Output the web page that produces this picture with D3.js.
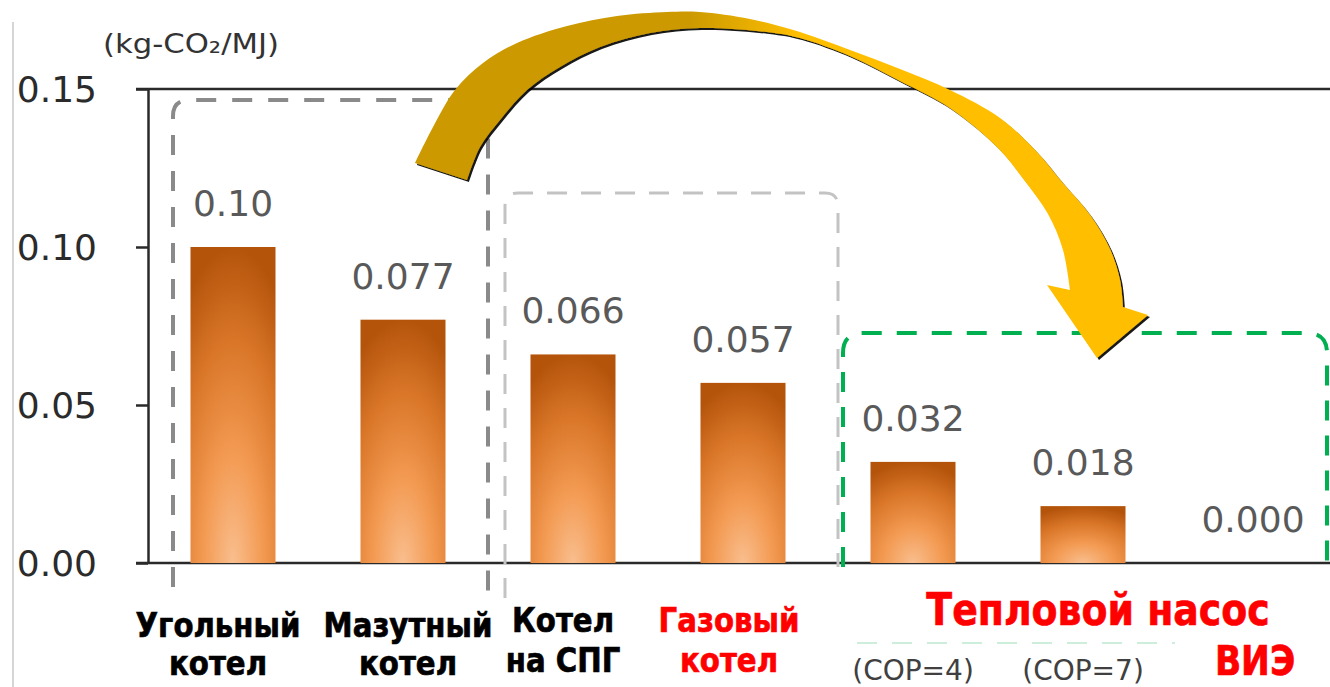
<!DOCTYPE html>
<html>
<head>
<meta charset="utf-8">
<script src="https://cdn.jsdelivr.net/npm/d3@7"></script>
<style>
  html, body { margin: 0; padding: 0; background: #fff; }
  svg { display: block; }
</style>
</head>
<body>
<svg id="chart" width="1330" height="687"></svg>
<script>
// CO2 emission factor per unit of heat delivered, by heat source
const categories = ["Угольный котел", "Мазутный котел", "Котел на СПГ", "Газовый котел",
                    "Тепловой насос (COP=4)", "Тепловой насос (COP=7)", "ВИЭ"];
const values = [0.10, 0.077, 0.066, 0.057, 0.032, 0.018, 0.000];
const valueLabels = ["0.10", "0.077", "0.066", "0.057", "0.032", "0.018", "0.000"];
const yTicks = [0, 0.05, 0.10, 0.15];
const unitLabel = "(kg-CO₂/MJ)";
const categoryLines = [["Угольный", "котел"], ["Мазутный", "котел"], ["Котел", "на СПГ"],
                       ["Газовый", "котел"], ["(COP=4)"], ["(COP=7)"], ["ВИЭ"]];
const groupLabel = "Тепловой насос";

const svg = d3.select("#chart");
const W = 1330, H = 687;
svg.append("rect").attr("width", W).attr("height", H).attr("fill", "#fff");

const x = d3.scaleBand().domain(categories).range([148, 1338]).paddingInner(0.5).paddingOuter(0.25);
const y = d3.scaleLinear().domain([0, 0.15]).range([563, 89]);

const defs = svg.append("defs");

// bar fill: light at the bottom centre, darkening towards the top
const bg = defs.append("radialGradient").attr("id", "barGrad")
  .attr("cx", 0.5).attr("cy", 1).attr("r", 1).attr("fx", 0.5).attr("fy", 1);
[[0, "#f9be8e"], [0.35, "#f39a52"], [0.7, "#d97628"], [1, "#b4540b"]].forEach(([o, c]) =>
  bg.append("stop").attr("offset", o).attr("stop-color", c));

// arrow fill: dark gold on the left, bright amber on the right
const ag = defs.append("linearGradient").attr("id", "arrowGrad")
  .attr("gradientUnits", "userSpaceOnUse").attr("x1", 690).attr("y1", 0).attr("x2", 800).attr("y2", 0);
ag.append("stop").attr("offset", 0).attr("stop-color", "#cc9a00");
ag.append("stop").attr("offset", 1).attr("stop-color", "#ffbf00");

const shadow = defs.append("filter").attr("id", "arrowShadow")
  .attr("x", "-10%").attr("y", "-10%").attr("width", "120%").attr("height", "120%");
shadow.append("feDropShadow").attr("dx", 2).attr("dy", 2).attr("stdDeviation", 0.7)
  .attr("flood-color", "#000").attr("flood-opacity", 0.9);

// faint frame line at the far left
svg.append("line").attr("x1", 13).attr("x2", 13).attr("y1", 22).attr("y2", H)
  .attr("stroke", "#d6d6d6").attr("stroke-width", 2);

// top border and baseline
svg.append("line").attr("x1", 136).attr("x2", W).attr("y1", y(0.15)).attr("y2", y(0.15))
  .attr("stroke", "#2a2a2a").attr("stroke-width", 2.5);
svg.append("line").attr("x1", 136).attr("x2", W).attr("y1", y(0)).attr("y2", y(0))
  .attr("stroke", "#2a2a2a").attr("stroke-width", 2.5);

// y axis
const yAxis = d3.axisLeft(y).tickValues(yTicks).tickFormat(d3.format(".2f"))
  .tickSize(12).tickSizeOuter(0).tickPadding(39);
const ga = svg.append("g").attr("transform", "translate(148,0)").call(yAxis);
ga.select(".domain").attr("stroke", "#2a2a2a").attr("stroke-width", 2.5);
ga.selectAll(".tick line").attr("stroke", "#2a2a2a").attr("stroke-width", 2.5);
ga.selectAll(".tick text").attr("font-family", "DejaVu Sans").attr("font-size", 36)
  .attr("fill", "#2b2b2b").attr("dy", "0.36em");

svg.append("text").attr("x", 103).attr("y", 53).text(unitLabel)
  .attr("font-family", "DejaVu Sans").attr("font-size", 27).attr("fill", "#333")
  .attr("textLength", 176).attr("lengthAdjust", "spacingAndGlyphs");

// dashed group frames (open at the bottom)
function frame(x0, x1, top, bottomL, bottomR, r) {
  const p = d3.path();
  p.moveTo(x0, bottomL);
  p.lineTo(x0, top + r);
  p.quadraticCurveTo(x0, top, x0 + r, top);
  p.lineTo(x1 - r, top);
  p.quadraticCurveTo(x1, top, x1, top + r);
  p.lineTo(x1, bottomR);
  return p.toString();
}
svg.append("path").attr("d", frame(173, 488, 100, 587, 597, 16))
  .attr("fill", "none").attr("stroke", "#8a8a8a").attr("stroke-width", 4).attr("stroke-dasharray", "20 16");
svg.append("path").attr("d", frame(505, 838, 193, 598, 567, 13))
  .attr("fill", "none").attr("stroke", "#c3c3c3").attr("stroke-width", 3).attr("stroke-dasharray", "20 14");
svg.append("path").attr("d", frame(843, 1327, 333, 567, 567, 20))
  .attr("fill", "none").attr("stroke", "#00b050").attr("stroke-width", 4).attr("stroke-dasharray", "20 15");
svg.append("line").attr("x1", 857).attr("x2", 1175).attr("y1", 643).attr("y2", 643)
  .attr("stroke", "#cdeedb").attr("stroke-width", 2).attr("stroke-dasharray", "20 15");

// bars
svg.append("g").selectAll("rect").data(values).join("rect")
  .attr("x", (d, i) => x(categories[i]))
  .attr("width", x.bandwidth())
  .attr("y", d => y(d))
  .attr("height", d => y(0) - y(d))
  .attr("fill", "url(#barGrad)");

// value labels
svg.append("g").selectAll("text").data(values).join("text")
  .attr("x", (d, i) => x(categories[i]) + x.bandwidth() / 2)
  .attr("y", d => y(d) - 31)
  .attr("text-anchor", "middle")
  .attr("font-family", "DejaVu Sans").attr("font-size", 36).attr("fill", "#595959")
  .text((d, i) => valueLabels[i]);

// category labels
const labelShift = [-15, 5, -10, -14, 0, 0, 2];
const labelStyle = [
  { bold: true, color: "#000", size: 34, base: 637, lead: 38 },
  { bold: true, color: "#000", size: 34, base: 637, lead: 38 },
  { bold: true, color: "#000", size: 34, base: 632, lead: 40 },
  { bold: true, color: "#f00", size: 34, base: 632, lead: 40 },
  { bold: false, color: "#404040", size: 28, base: 680, lead: 0 },
  { bold: false, color: "#404040", size: 28, base: 680, lead: 0 },
  { bold: true, color: "#f00", size: 40, base: 675, lead: 0 }
];
function condensedText(cx, cy, str, st) {
  const g = svg.append("g").attr("transform", `translate(${cx},${cy}) scale(${st.bold ? 0.86 : 1},1)`);
  const t = g.append("text").attr("text-anchor", "middle")
    .attr("font-family", "DejaVu Sans").attr("font-weight", st.bold ? "bold" : "normal")
    .attr("font-size", st.size).attr("fill", st.color).text(str);
  if (st.bold) t.attr("stroke", st.color).attr("stroke-width", 0.7);
}
categoryLines.forEach((lines, i) => {
  const cx = x(categories[i]) + x.bandwidth() / 2 + labelShift[i];
  lines.forEach((ln, j) => condensedText(cx, labelStyle[i].base + j * labelStyle[i].lead, ln, labelStyle[i]));
});
condensedText(1098, 625, groupLabel, { bold: true, color: "#f00", size: 44 });

// curved arrow from the fossil boilers to the heat pumps
const outer = [[415, 163], [433, 127], [455, 90], [483, 63], [517, 43], [567, 26], [617, 16],
               [667, 12], [700, 12], [750, 19], [800, 32], [850, 50], [900, 69], [950, 90],
               [1000, 118], [1035, 150], [1062, 182], [1090, 215], [1110, 249], [1120, 280], [1123, 307]];
const inner = [[1070, 290], [1063, 250], [1048, 214], [1024, 180], [998, 148], [950, 108],
               [900, 81], [850, 56], [800, 38], [767, 32], [700, 28], [650, 33], [600, 47],
               [560, 67], [527, 90], [500, 120], [480, 147], [467, 180]];
const curve = d3.line().curve(d3.curveCatmullRom.alpha(0.5));
const arrowPath = curve(outer) +
  "L1148,315L1097,358L1047,285L1070,290" +
  curve(inner).replace(/^M/, "L") + "Z";
svg.append("path").attr("d", arrowPath).attr("fill", "url(#arrowGrad)")
  .attr("filter", "url(#arrowShadow)");
</script>
</body>
</html>
